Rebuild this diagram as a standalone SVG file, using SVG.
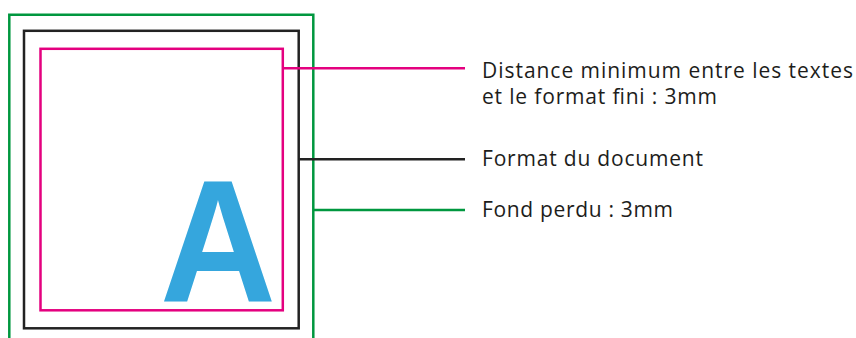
<svg xmlns="http://www.w3.org/2000/svg" width="856" height="338" viewBox="0 0 856 338">
  <style>
    .frame { fill: none; stroke-width: 2.5; }
    .green { stroke: #00973F; }
    .black { stroke: #222222; }
    .pink { stroke: #E4007F; }
    .label { font-family: "Open Sans", "Liberation Sans", Arial, sans-serif; font-weight: 500; font-size: 21px; fill: #1d1d1b; }
    .big { font-family: "Liberation Sans", Arial, sans-serif; font-weight: bold; font-size: 175px; fill: #35A6DD; }
  </style>
  <rect width="856" height="338" fill="#ffffff"/>
  <g id="bleed">
    <path class="frame green" d="M9.3,345 V14.7 H313.3 V345"/>
  </g>
  <g id="document-format">
    <rect class="frame black" x="24" y="30.8" width="274.7" height="297.5"/>
  </g>
  <g id="safe-margin">
    <rect class="frame pink" x="40.5" y="48.8" width="242.3" height="261.5"/>
    <text class="big" x="160" y="302" textLength="116" lengthAdjust="spacingAndGlyphs">A</text>
  </g>
  <g id="connectors">
    <line class="frame pink" x1="282.8" y1="68.3" x2="465" y2="68.3"/>
    <line class="frame black" x1="298.7" y1="159.3" x2="465" y2="159.3"/>
    <line class="frame green" x1="313.3" y1="210" x2="465" y2="210"/>
  </g>
  <g id="labels">
    <text class="label" x="482" y="77.5" textLength="371" lengthAdjust="spacing">Distance minimum entre les textes</text>
    <text class="label" x="482" y="103.5" textLength="235" lengthAdjust="spacing">et le format fini : 3mm</text>
    <text class="label" x="482" y="166" textLength="221" lengthAdjust="spacing">Format du document</text>
    <text class="label" x="482" y="217" textLength="191" lengthAdjust="spacing">Fond perdu : 3mm</text>
  </g>
</svg>
